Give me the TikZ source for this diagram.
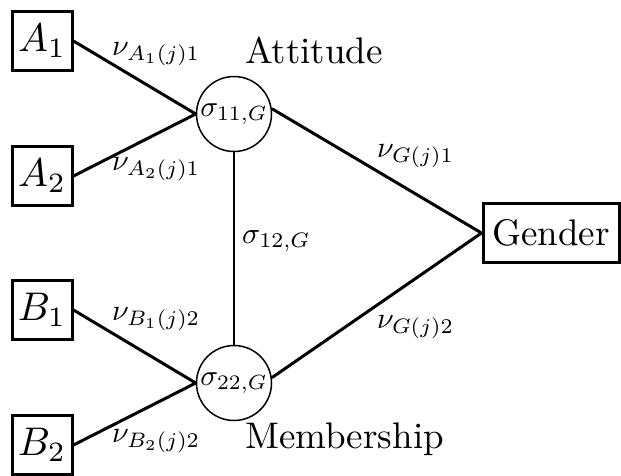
\documentclass[tikz,border=0pt]{standalone}
\usepackage{graphicx}
\newcommand{\BT}[1]{\scalebox{3.7}{#1}}
\newcommand{\MT}[1]{\scalebox{4.0}{#1}}
\newcommand{\LT}[1]{\scalebox{3.0}{#1}}
\newcommand{\CT}[1]{\scalebox{2.95}{#1}}
\begin{document}
\begin{tikzpicture}[x=1pt,y=-1pt,
  varbox/.style={draw,line width=3pt,minimum width=60pt,minimum height=59pt,inner sep=0pt},
  latent/.style={draw,circle,line width=1.5pt,minimum size=75pt,inner sep=0pt},
  lab/.style={inner sep=0pt,anchor=base west},
  conn/.style={line width=3pt},
  thinconn/.style={line width=2.2pt}]
\useasboundingbox (0,0) rectangle (621,475);
\node[varbox] (A1) at (42,41) {\MT{$A_1$}};
\node[varbox] (A2) at (42,176) {\MT{$A_2$}};
\node[varbox] (B1) at (42,310) {\MT{$B_1$}};
\node[varbox] (B2) at (42,445) {\MT{$B_2$}};
\node[varbox,minimum width=136pt] (G) at (551,233) {\BT{Gender}};
\node[latent] (s11) at (234,114) {\CT{$\sigma_{11,G}$}};
\node[latent] (s22) at (234,383) {\CT{$\sigma_{22,G}$}};
\draw[conn] (A1.east) -- (s11.west);
\draw[conn] (A2.east) -- (s11.west);
\draw[conn] (B1.east) -- (s22.west);
\draw[conn] (B2.east) -- (s22.west);
\draw[conn] (s11.8) -- (G.west);
\draw[conn] (s22.8) -- (G.west);
\draw[thinconn] (s11.south) -- (s22.north);
\node[lab] (lA1) at (112,55) {\LT{$\nu_{A_1(j)1}$}};
\node[lab] (lA2) at (112,170) {\LT{$\nu_{A_2(j)1}$}};
\node[lab] (lB1) at (112,320) {\LT{$\nu_{B_1(j)2}$}};
\node[lab] (lB2) at (112,442) {\LT{$\nu_{B_2(j)2}$}};
\node[lab] (lG1) at (377,157) {\LT{$\nu_{G(j)1}$}};
\node[lab] (lG2) at (377,328) {\LT{$\nu_{G(j)2}$}};
\node[lab] (l12) at (242,243) {\LT{$\sigma_{12,G}$}};
\node[lab] (att) at (245,63) {\BT{Attitude}};
\node[lab] (mem) at (245,448) {\BT{Membership}};
\end{tikzpicture}
\end{document}
